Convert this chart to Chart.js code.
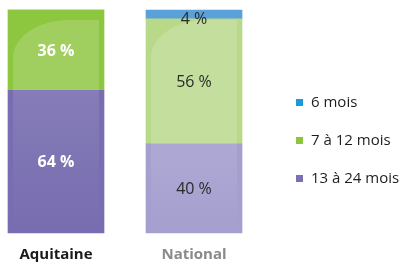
<!DOCTYPE html>
<html><head><meta charset="utf-8">
<script src="https://cdn.jsdelivr.net/npm/chart.js@4/dist/chart.umd.min.js"></script>
<style>
html,body{margin:0;padding:0;background:#fff;}
#wrap{position:relative;width:405px;height:266px;}
#legend{position:absolute;left:296px;top:91px;font-family:"Open Sans",sans-serif;font-size:15px;color:#1e1e1e;}
#legend div{height:38px;line-height:21px;white-space:nowrap;}
#legend span.sw{display:inline-block;width:7px;height:7px;margin-right:8px;vertical-align:1px;}
</style></head>
<body><div id="wrap"><canvas id="c" width="405" height="266"></canvas><div id="legend"></div></div>
<script>
const categories = ["Aquitaine", "National"];
const seriesNames = ["13 à 24 mois", "7 à 12 mois", "6 mois"];
const v13to24 = [64, 40];
const v7to12 = [36, 56];
const v6 = [0, 4];
const legendColors = ["#7a70b2", "#8cc63f", "#1a9ad6"];

const gloss = {
  id: 'gloss',
  afterDatasetsDraw(chart) {
    const ctx = chart.ctx;
    chart.getDatasetMeta(1).data.forEach((bar) => {
      const l = bar.x - bar.width / 2 + 5, r = bar.x + bar.width / 2 - 5;
      const t = chart.chartArea.top + 10, b = bar.base;
      const rx = 55, ry = 38;
      ctx.save();
      ctx.fillStyle = 'rgba(255,255,255,0.17)';
      ctx.beginPath();
      ctx.moveTo(l, b);
      ctx.lineTo(l, t + ry);
      ctx.ellipse(l + rx, t + ry, rx, ry, 0, Math.PI, Math.PI * 1.5);
      ctx.lineTo(r, t);
      ctx.lineTo(r, b);
      ctx.closePath();
      ctx.fill();
      ctx.restore();
    });
    chart.getDatasetMeta(0).data.forEach((bar) => {
      const l = bar.x - bar.width / 2 + 5, r = bar.x + bar.width / 2 - 5;
      const t = bar.y, b = bar.base;
      const g = ctx.createLinearGradient(0, t, 0, b);
      g.addColorStop(0, 'rgba(255,255,255,0.10)');
      g.addColorStop(1, 'rgba(255,255,255,0.0)');
      ctx.save();
      ctx.fillStyle = g;
      ctx.fillRect(l, t, r - l, b - t);
      ctx.restore();
    });
  }
};

const valueLabels = {
  id: 'valueLabels',
  afterDatasetsDraw(chart) {
    const ctx = chart.ctx;
    chart.data.datasets.forEach((ds, di) => {
      const meta = chart.getDatasetMeta(di);
      meta.data.forEach((bar, i) => {
        const v = ds.data[i];
        if (!v) return;
        const y = (bar.y + bar.base) / 2 + (v < 8 ? 5 : 1);
        ctx.save();
        ctx.textAlign = 'center';
        ctx.textBaseline = 'middle';
        if (i === 0) {
          ctx.fillStyle = '#ffffff';
          ctx.font = '700 16px "Open Sans"';
        } else {
          ctx.fillStyle = '#2a2a2a';
          ctx.font = '400 16px "Open Sans"';
        }
        ctx.fillText(v + ' %', bar.x, y);
        ctx.restore();
      });
    });
  }
};

new Chart(document.getElementById('c'), {
  type: 'bar',
  data: {
    labels: categories,
    datasets: [
      { label: seriesNames[0], data: v13to24, backgroundColor: ['#776db0', '#a59fcf'] },
      { label: seriesNames[1], data: v7to12, backgroundColor: ['#8dc63f', '#b9d98a'] },
      { label: seriesNames[2], data: v6, backgroundColor: ['#5aa1da', '#5aa1da'] }
    ]
  },
  options: {
    responsive: false,
    animation: false,
    devicePixelRatio: 1,
    layout: { padding: { left: 56, right: 211, top: 10, bottom: 0 } },
    datasets: { bar: { barThickness: 96, clip: false } },
    plugins: { legend: { display: false }, tooltip: { enabled: false } },
    scales: {
      x: {
        stacked: true, offset: false,
        afterFit: (s) => { s.height = 33; },
        grid: { display: false, drawTicks: false }, border: { display: false },
        ticks: { padding: 13, font: { family: 'Open Sans', size: 15, weight: '700' },
          color: (c) => c.index === 0 ? '#1a1a1a' : '#8a8a8a' }
      },
      y: { stacked: true, min: 0, max: 100, display: false }
    }
  },
  plugins: [gloss, valueLabels]
});

const lg = document.getElementById('legend');
[2, 1, 0].forEach(i => {
  const d = document.createElement('div');
  d.innerHTML = '<span class="sw" style="background:' + legendColors[i] + '"></span>' + seriesNames[i];
  lg.appendChild(d);
});
</script></body></html>
